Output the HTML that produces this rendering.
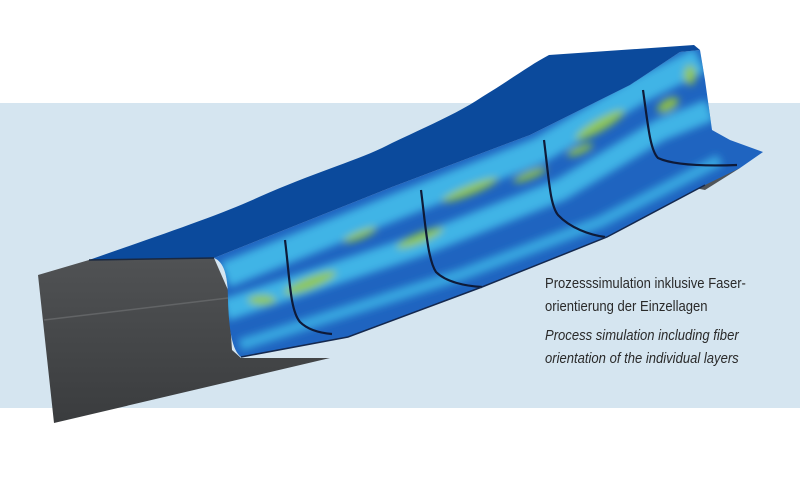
<!DOCTYPE html>
<html><head><meta charset="utf-8"><style>
html,body{margin:0;padding:0;background:#fff;}
.w{position:relative;width:800px;height:477px;overflow:hidden;background:#fff;}
.band{position:absolute;left:0;top:103px;width:800px;height:305px;background:#d5e5f0;}
svg{position:absolute;left:0;top:0;}
.t{position:absolute;left:545px;font-family:"Liberation Sans",sans-serif;font-size:14.5px;color:#2a2a2a;white-space:nowrap;transform-origin:0 0;transform:scaleX(0.9);}
.i{font-style:italic;}
</style></head><body><div class="w">
<div class="band"></div>
<svg width="800" height="477" viewBox="0 0 800 477">
<defs>
<linearGradient id="gr" x1="0" y1="0" x2="0" y2="1">
<stop offset="0" stop-color="#505254"/><stop offset="1" stop-color="#3a3c3e"/>
</linearGradient>
<clipPath id="mc"><path d="M214,258 C224,262 228,275 228,300 C229,330 232,350 241,357 L348,337 L482,287 L607,237 L705,185 L740,168 L763,152 L730,140 L712,130 L705,80 L700,50 L680,52 L630,85 L530,135 L392,187 Z"/></clipPath>
<filter id="bl"><feGaussianBlur stdDeviation="4"/></filter>
</defs>
<!-- gray tool -->
<polygon points="38,275 89,260 214,258 228,290 232,350 241,358 330,358 54,423" fill="url(#gr)"/>
<polyline points="44,320 228,298" stroke="#626466" stroke-width="1.5" fill="none"/>
<polygon points="690,175 740,168 705,190 680,185" fill="#505458"/>
<!-- mottled region -->
<g clip-path="url(#mc)">
<rect x="200" y="40" width="600" height="340" fill="#1f64c0"/>
<g filter="url(#bl)">
<path d="M225,275 L400,205 L540,150 L640,90 L700,60" stroke="#3fb4e6" stroke-width="26" fill="none"/>
<path d="M225,310 L420,245 L560,190 L660,130 L710,110" stroke="#3fb4e6" stroke-width="22" fill="none"/>
<path d="M240,345 L460,275 L600,222 L720,160" stroke="#37a6e0" stroke-width="12" fill="none"/>
<g fill="#9fcc3a" opacity="0.85">
<ellipse cx="310" cy="283" rx="28" ry="6" transform="rotate(-22 310 283)"/>
<ellipse cx="262" cy="300" rx="14" ry="5"/>
<ellipse cx="420" cy="238" rx="25" ry="5" transform="rotate(-22 420 238)"/>
<ellipse cx="470" cy="190" rx="30" ry="5" transform="rotate(-22 470 190)"/>
<ellipse cx="530" cy="175" rx="18" ry="4" transform="rotate(-22 530 175)"/>
<ellipse cx="600" cy="125" rx="28" ry="6" transform="rotate(-30 600 125)"/>
<ellipse cx="668" cy="105" rx="12" ry="6" transform="rotate(-30 668 105)"/>
<ellipse cx="690" cy="75" rx="6" ry="10"/>
<ellipse cx="360" cy="235" rx="18" ry="4" transform="rotate(-22 360 235)"/>
<ellipse cx="580" cy="150" rx="14" ry="4" transform="rotate(-22 580 150)"/>
</g>
</g>
</g>
<!-- dark top surface -->
<path d="M89,260 C160,235 220,215 259,197 C320,170 360,160 392,143 C430,125 460,112 482,97 C510,80 530,65 549,55 L694,45 L700,50 L680,52 L630,85 L530,135 L392,187 L214,258 Z" fill="#0b4a9c"/>
<path d="M89,260 L214,258" stroke="#1a2840" stroke-width="1.5"/>
<!-- ribs -->
<g stroke="#0e1a38" stroke-width="2.2" fill="none">
<path d="M285,240 C290,280 290,310 300,322 C308,330 320,333 332,334"/>
<path d="M421,190 C426,230 428,260 436,272 C446,282 465,286 482,287"/>
<path d="M544,140 C549,180 550,205 558,215 C570,228 590,235 605,237"/>
<path d="M643,90 C648,125 650,150 658,158 C675,166 710,166 737,165"/>
</g>
<path d="M241,357 L348,337 L482,287 L607,237 L705,185" stroke="#14284e" stroke-width="1.5" fill="none"/>
</svg>
<div class="t" style="top:276px">Prozesssimulation inklusive Faser-</div>
<div class="t" style="top:299px">orientierung der Einzellagen</div>
<div class="t i" style="top:328px">Process simulation including fiber</div>
<div class="t i" style="top:351px">orientation of the individual layers</div>
</div></body></html>
